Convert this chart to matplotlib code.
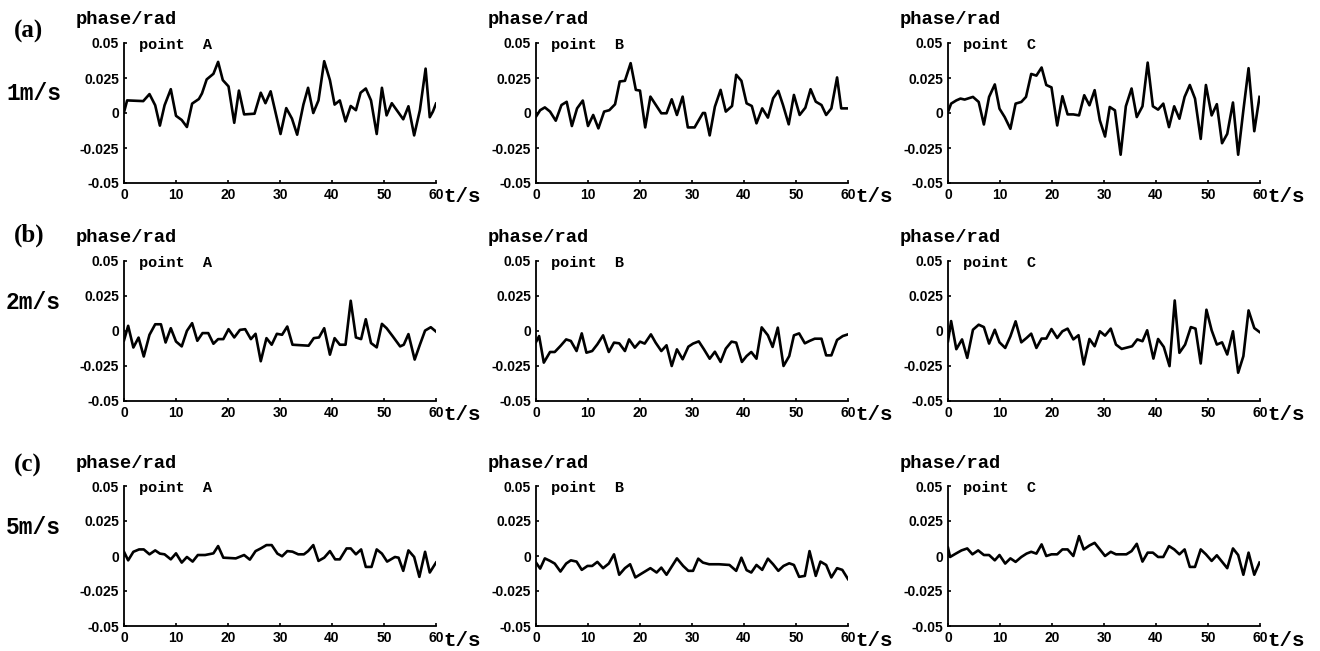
import matplotlib.pyplot as plt

# time (s) and phase (rad), one pair per panel
# row (a): 1 m/s
t_1A = [0, 0.6, 3.7, 4.9, 6.0, 6.9, 7.8, 9.0, 10.0, 11.1, 12.1, 13.1, 14.4, 15.0, 15.9, 17.2, 18.1, 19.0,
        20.1, 21.2, 22.1, 23.1, 25.1, 26.3, 27.2, 28.2, 30.1, 31.2, 32.3, 33.3, 34.5, 35.4, 36.4, 37.4,
        38.5, 39.6, 40.5, 41.5, 42.6, 43.6, 44.6, 45.5, 46.5, 47.5, 48.6, 49.6, 50.5, 51.5, 53.7, 54.7,
        55.8, 56.9, 58.0, 58.8, 59.4, 60.0]
y_1A = [0.0005, 0.009, 0.0085, 0.0135, 0.0055, -0.009, 0.0055, 0.017, -0.002, -0.005, -0.010, 0.0067,
        0.010, 0.014, 0.024, 0.028, 0.0365, 0.0235, 0.019, -0.007, 0.016, -0.001, -0.0005, 0.0145, 0.007,
        0.0155, -0.015, 0.0035, -0.004, -0.0155, 0.006, 0.018, 0.0, 0.009, 0.037, 0.0235, 0.006, 0.009,
        -0.006, 0.005, 0.002, 0.0145, 0.0175, 0.009, -0.015, 0.018, -0.0017, 0.007, -0.0045, 0.0048,
        -0.016, 0.002, 0.0317, -0.003, 0.001, 0.0067]

t_1B = [0, 0.8, 1.7, 2.7, 3.8, 4.9, 5.9, 6.9, 7.9, 9.0, 10.0, 11.0, 12.0, 13.1, 14.1, 15.2, 16.1, 17.1,
        18.2, 19.2, 20.0, 21.0, 22.0, 24.1, 25.1, 26.1, 27.1, 28.2, 29.2, 30.5, 32.1, 32.5, 33.4, 34.4,
        35.5, 36.5, 37.7, 38.5, 39.5, 40.5, 41.5, 42.4, 43.5, 44.6, 45.6, 46.6, 47.5, 48.6, 49.6, 50.7,
        51.8, 52.8, 53.8, 54.9, 55.8, 56.8, 57.9, 58.7, 59.8]
y_1B = [-0.0026, 0.002, 0.004, 0.001, -0.0055, 0.0057, 0.008, -0.0093, 0.0033, 0.0089, -0.0093, -0.0014,
        -0.011, 0.001, 0.002, 0.0062, 0.0225, 0.023, 0.0356, 0.0165, 0.016, -0.0103, 0.0117, -0.0002,
        -0.0002, 0.0098, -0.0014, 0.0117, -0.0103, -0.0103, 0.0, 0.0, -0.016, 0.0045, 0.0165, 0.001, 0.005,
        0.0273, 0.023, 0.0069, 0.005, -0.0074, 0.0033, -0.0033, 0.0105, 0.0158, 0.0057, -0.0081, 0.0129,
        -0.0014, 0.0038, 0.017, 0.0081, 0.0057, -0.0014, 0.0033, 0.0254, 0.0033, 0.0033]

t_1C = [0, 0.6, 1.6, 2.4, 3.2, 4.8, 5.9, 6.9, 7.9, 9.0, 9.9, 10.9, 12.0, 13.0, 14.1, 15.0, 16.0, 17.0,
        18.0, 18.9, 19.9, 21.0, 22.0, 23.0, 24.1, 25.2, 26.2, 27.2, 28.2, 29.2, 30.2, 31.1, 32.1, 33.2,
        34.2, 35.3, 36.3, 37.4, 38.4, 39.4, 40.4, 41.4, 42.5, 43.5, 44.5, 45.5, 46.5, 47.5, 48.6, 49.6,
        50.7, 51.7, 52.7, 53.7, 54.8, 55.8, 56.8, 57.8, 58.9, 59.9]
y_1C = [0.0007, 0.0067, 0.009, 0.0103, 0.0096, 0.0115, 0.0079, -0.0082, 0.0115, 0.0204, 0.0031, -0.0029,
        -0.0113, 0.0067, 0.0079, 0.0115, 0.0279, 0.0267, 0.0325, 0.020, 0.0183, -0.0089, 0.012, -0.001,
        -0.001, -0.0017, 0.0127, 0.0055, 0.0163, -0.0053, -0.0168, 0.0043, 0.0019, -0.0298, 0.0048, 0.0175,
        -0.0029, 0.0048, 0.036, 0.0048, 0.0024, 0.0067, -0.0101, 0.0048, -0.0041, 0.0115, 0.020, 0.0103,
        -0.0185, 0.020, -0.0017, 0.0063, -0.0216, -0.0149, 0.0075, -0.0298, 0.0019, 0.032, -0.013, 0.0115]

# row (b): 2 m/s
t_2A = [0, 0.8, 1.8, 2.8, 3.8, 4.9, 6.0, 7.1, 8.0, 9.0, 10.0, 11.1, 12.1, 13.1, 14.1, 15.1, 16.2, 17.2,
        18.1, 19.1, 20.1, 21.2, 22.3, 23.3, 24.4, 25.3, 26.3, 27.4, 28.4, 29.4, 30.4, 31.4, 32.4, 35.5,
        36.5, 37.5, 38.5, 39.6, 40.5, 41.5, 42.6, 43.6, 44.6, 45.6, 46.5, 47.5, 48.6, 49.6, 50.5, 51.7,
        53.1, 53.8, 54.7, 55.9, 56.9, 57.9, 59.0, 60.0]
y_2A = [-0.0067, 0.0037, -0.0118, -0.0047, -0.0182, -0.0027, 0.0048, 0.0048, -0.0082, 0.002, -0.0075,
        -0.011, 0.0001, 0.0056, -0.007, -0.0015, -0.0015, -0.0091, -0.0058, -0.0058, 0.0013, -0.0046,
        0.0008, 0.0013, -0.0058, -0.002, -0.0216, -0.0051, -0.0098, -0.002, -0.0027, 0.0032, -0.0098,
        -0.0105, -0.0051, -0.0046, 0.002, -0.0169, -0.0051, -0.0098, -0.0098, 0.0216, -0.0046, -0.0058,
        0.0084, -0.0086, -0.0117, 0.0051, 0.002, -0.0039, -0.011, -0.0098, -0.0022, -0.0204, -0.0098,
        0.0003, 0.0027, -0.0004]

t_2B = [0, 0.6, 1.5, 2.7, 3.6, 4.7, 5.8, 6.7, 7.8, 8.8, 9.7, 10.8, 11.8, 12.9, 14.0, 15.0, 16.0, 17.1,
        17.9, 19.0, 20.0, 20.9, 22.1, 23.0, 24.1, 25.1, 26.1, 27.1, 28.2, 29.3, 30.2, 31.3, 32.3, 33.4,
        34.4, 35.5, 36.5, 37.6, 38.5, 39.6, 40.5, 41.4, 42.4, 43.4, 44.6, 45.5, 46.5, 47.6, 48.7, 49.6,
        50.6, 51.7, 52.6, 53.6, 54.9, 55.8, 56.8, 57.9, 59.0, 60.0]
y_2B = [-0.0079, -0.0036, -0.0226, -0.015, -0.015, -0.0107, -0.006, -0.0071, -0.0143, -0.0017, -0.0155,
        -0.0143, -0.0095, -0.0031, -0.015, -0.0083, -0.0088, -0.0143, -0.006, -0.0119, -0.0076, -0.009,
        -0.0024, -0.0083, -0.0143, -0.0102, -0.025, -0.0131, -0.0202, -0.0112, -0.009, -0.0074, -0.0131,
        -0.0198, -0.0148, -0.0221, -0.0126, -0.0076, -0.0083, -0.0221, -0.0179, -0.015, -0.0198, 0.0026,
        -0.0031, -0.0114, 0.0024, -0.025, -0.0179, -0.0031, -0.0017, -0.0088, -0.0071, -0.0055, -0.0055,
        -0.0174, -0.0174, -0.0064, -0.0036, -0.0024]

t_2C = [0, 0.6, 1.6, 2.7, 3.7, 4.8, 5.9, 6.9, 7.9, 9.0, 9.9, 11.0, 12.0, 13.0, 14.1, 15.1, 16.0, 17.0,
        18.0, 18.9, 19.9, 21.0, 22.0, 23.0, 24.1, 25.1, 26.1, 27.2, 28.2, 29.2, 30.2, 31.3, 32.3, 33.4,
        35.4, 36.4, 37.4, 38.3, 39.5, 40.4, 41.5, 42.6, 43.6, 44.5, 45.6, 46.7, 47.6, 48.6, 49.7, 50.7,
        51.7, 52.7, 53.7, 54.8, 55.8, 56.8, 57.8, 58.9, 59.9]
y_2C = [-0.0073, 0.0071, -0.013, -0.006, -0.0192, 0.0009, 0.0045, 0.0028, -0.009, 0.0009, -0.0081,
        -0.0121, -0.0038, 0.0069, -0.0081, -0.005, -0.0019, -0.0121, -0.0054, -0.0054, 0.0014, -0.005,
        -0.0002, 0.0017, -0.006, -0.003, -0.0239, -0.0057, -0.0109, -0.0002, -0.0033, 0.0017, -0.0097,
        -0.0128, -0.0109, -0.006, -0.0073, 0.0005, -0.0197, -0.0057, -0.0114, -0.0251, 0.0218, -0.0156,
        -0.0097, 0.0028, 0.0017, -0.0232, 0.0152, 0.0005, -0.0097, -0.0081, -0.0168, -0.0002, -0.0298,
        -0.018, 0.0147, 0.0021, -0.0007]

# row (c): 5 m/s
t_3A = [0, 0.8, 1.8, 2.9, 3.8, 4.9, 6.0, 6.9, 7.8, 9.0, 10.0, 11.1, 12.1, 13.2, 14.2, 15.6, 17.2, 18.1,
        19.1, 21.5, 23.1, 24.2, 25.3, 26.3, 27.4, 28.4, 29.5, 30.4, 31.4, 32.4, 33.5, 34.6, 35.4, 36.4,
        37.4, 38.5, 39.6, 40.6, 41.5, 42.8, 43.6, 44.6, 45.6, 46.5, 47.6, 48.6, 49.6, 50.6, 52.1, 52.8,
        53.7, 54.7, 55.8, 56.8, 57.9, 58.8, 60.0]
y_3A = [0.003, -0.0031, 0.003, 0.0047, 0.0047, 0.0012, 0.004, 0.0017, 0.0012, -0.0024, 0.0019, -0.0047,
        -0.0007, -0.004, 0.0007, 0.0007, 0.0019, 0.0071, -0.0012, -0.0017, 0.0007, -0.0026, 0.0035, 0.0054,
        0.0078, 0.0078, 0.0017, -0.0002, 0.0035, 0.0031, 0.0012, 0.0012, 0.0035, 0.0078, -0.0035, -0.0012,
        0.0035, -0.0024, -0.0024, 0.0054, 0.0054, 0.0012, 0.0047, -0.0078, -0.0078, 0.0047, 0.0017, -0.004,
        -0.0007, -0.0012, -0.0106, 0.004, -0.0007, -0.0149, 0.003, -0.0118, -0.0047]

t_3B = [0, 0.8, 1.7, 2.7, 3.6, 4.7, 5.8, 6.7, 7.8, 8.8, 9.9, 10.8, 11.8, 12.9, 14.0, 15.0, 16.0, 17.1,
        18.1, 19.1, 20.1, 22.0, 23.2, 24.1, 25.1, 27.1, 28.3, 29.3, 30.2, 31.2, 32.1, 33.3, 35.2, 37.2,
        38.5, 39.5, 40.5, 41.4, 42.4, 43.5, 44.6, 45.6, 46.6, 47.6, 48.7, 49.6, 50.6, 51.7, 52.6, 53.8,
        54.7, 55.8, 56.8, 57.9, 58.9, 60.0]
y_3B = [-0.0047, -0.009, -0.0017, -0.0035, -0.0054, -0.0111, -0.0054, -0.0031, -0.004, -0.0099, -0.0071,
        -0.0071, -0.0042, -0.0087, -0.0054, 0.0012, -0.0134, -0.0087, -0.0059, -0.0153, -0.013, -0.0087,
        -0.0118, -0.0083, -0.0134, -0.0017, -0.0071, -0.0106, -0.0106, -0.0019, -0.0047, -0.0059, -0.0059,
        -0.0064, -0.0106, -0.0012, -0.0101, -0.0118, -0.0064, -0.0099, -0.0019, -0.0059, -0.0106, -0.0071,
        -0.0052, -0.0064, -0.0149, -0.0142, 0.0035, -0.0142, -0.004, -0.0064, -0.0153, -0.0087, -0.0099,
        -0.0165]

t_3C = [0, 0.4, 1.5, 2.6, 3.7, 4.7, 5.8, 6.9, 7.9, 9.0, 9.9, 11.0, 12.0, 13.0, 14.1, 15.1, 16.0, 17.0,
        18.0, 18.9, 19.9, 21.0, 22.0, 23.0, 24.1, 25.2, 26.1, 27.2, 28.2, 29.2, 30.2, 31.3, 32.3, 34.3,
        35.3, 36.3, 37.4, 38.4, 39.4, 40.4, 41.4, 42.5, 43.5, 44.5, 45.5, 46.5, 47.5, 48.6, 49.6, 50.7,
        51.7, 53.7, 54.8, 55.8, 56.8, 57.8, 58.9, 59.9]
y_3C = [0.0059, -0.0007, 0.0017, 0.004, 0.0054, 0.0012, 0.004, 0.0007, 0.0007, -0.0031, 0.0007, -0.0054,
        -0.0017, -0.0042, -0.0007, 0.0017, 0.003, 0.0017, 0.0083, 0.0, 0.0012, 0.0012, 0.0047, 0.0047, 0.0,
        0.0142, 0.0047, 0.0075, 0.0094, 0.0047, 0.0, 0.003, 0.0012, 0.0012, 0.0035, 0.0087, -0.004, 0.0024,
        0.0024, -0.0007, -0.0007, 0.0071, 0.0047, 0.0012, 0.0047, -0.0078, -0.0078, 0.0047, 0.0012, -0.0035,
        0.0005, -0.0087, 0.0054, 0.0007, -0.0134, 0.0024, -0.0134, -0.0047]

panels = [[(t_1A, y_1A), (t_1B, y_1B), (t_1C, y_1C)],
          [(t_2A, y_2A), (t_2B, y_2B), (t_2C, y_2C)],
          [(t_3A, y_3A), (t_3B, y_3B), (t_3C, y_3C)]]

row_tags = ["(a)", "(b)", "(c)"]
speeds = ["1m/s", "2m/s", "5m/s"]
points = ["point  A", "point  B", "point  C"]
xticks = [0, 10, 20, 30, 40, 50, 60]
yticks = [-0.05, -0.025, 0, 0.025, 0.05]
ytick_labels = ["-0.05", "-0.025", "0", "0.025", "0.05"]

# layout in pixels of the 1320x651 canvas
W, H = 1320, 651
col_left = [124, 536, 948]
ax_w = 312
row_top = [43, 261, 486]
ax_h = 140
tag_y = [31, 235, 465]
speed_y = [93, 302, 527]

MONO = "Liberation Mono"
SANS = "Liberation Sans"

fig = plt.figure(figsize=(W / 100, H / 100), dpi=100)


def fx(px):
    return px / W


def fy(py):
    return 1 - py / H


for r in range(3):
    fig.text(fx(14), fy(tag_y[r]), row_tags[r], family="Liberation Serif", weight="bold",
             fontsize=18, ha="left", va="center")
    fig.text(fx(6), fy(speed_y[r]), speeds[r], family=MONO, weight="bold", fontsize=16.5,
             ha="left", va="center")
    for c in range(3):
        L, T = col_left[c], row_top[r]
        ax = fig.add_axes([fx(L), fy(T + ax_h), ax_w / W, ax_h / H])
        t, y = panels[r][c]
        ax.plot(t, y, color="black", linewidth=1.9)
        ax.set_xlim(0, 60)
        ax.set_ylim(-0.05, 0.05)
        ax.set_xticks(xticks)
        ax.set_yticks(yticks)
        ax.set_yticklabels(ytick_labels)
        for side in ("top", "right"):
            ax.spines[side].set_visible(False)
        for side in ("left", "bottom"):
            ax.spines[side].set_linewidth(1.3)
        ax.tick_params(direction="in", length=2.5, width=1.2, labelsize=10, pad=3.5)
        for lab in ax.get_xticklabels() + ax.get_yticklabels():
            lab.set_family(SANS)
            lab.set_weight("bold")

        fig.text(fx(L - 48), fy(T - 23), "phase/rad", family=MONO, weight="bold",
                 fontsize=13.5, ha="left", va="center")
        fig.text(fx(L + 15), fy(T + 2), points[c], family=MONO, weight="bold",
                 fontsize=11, ha="left", va="center")
        fig.text(fx(L + ax_w + 7), fy(T + ax_h + 14), "t/s", family=MONO, weight="bold",
                 fontsize=15, ha="left", va="center")

fig.savefig("out.png", dpi=100, facecolor="white")
